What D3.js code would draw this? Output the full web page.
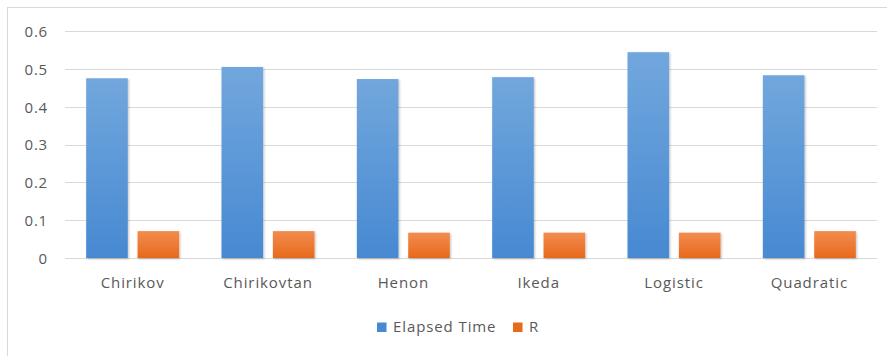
<!DOCTYPE html>
<html>
<head>
<meta charset="utf-8">
<script src="https://cdn.jsdelivr.net/npm/d3@7"></script>
<style>
  html, body { margin: 0; padding: 0; background: #fff; }
  svg { display: block; }
  text { font-family: "Open Sans", "Liberation Sans", sans-serif; fill: #595959; }
</style>
</head>
<body>
<svg id="chart" width="887" height="356"></svg>
<script>
// Chart data
const categories = ["Chirikov", "Chirikovtan", "Henon", "Ikeda", "Logistic", "Quadratic"];
const seriesNames = ["Elapsed Time", "R"];
const elapsedTime = [0.475, 0.505, 0.473, 0.478, 0.544, 0.483];
const rValues = [0.071, 0.071, 0.067, 0.067, 0.067, 0.071];
const yTicks = [0, 0.1, 0.2, 0.3, 0.4, 0.5, 0.6];

const seriesValues = [elapsedTime, rValues];
const colors = {
  "Elapsed Time": ["#72a7dd", "#4789d2"],
  "R": ["#f28c4e", "#e8691c"]
};

const plot = { left: 65, right: 877, top: 31, bottom: 258 };
const FONT = "'Open Sans', 'Liberation Sans', sans-serif";

const svg = d3.select("#chart");
const defs = svg.append("defs");

seriesNames.forEach((name, i) => {
  const g = defs.append("linearGradient")
    .attr("id", "grad" + i)
    .attr("x1", 0).attr("y1", 0).attr("x2", 0).attr("y2", 1);
  g.append("stop").attr("offset", "0%").attr("stop-color", colors[name][0]);
  g.append("stop").attr("offset", "100%").attr("stop-color", colors[name][1]);
});

const shadow = defs.append("filter").attr("id", "barShadow")
  .attr("x", "-20%").attr("y", "-10%").attr("width", "140%").attr("height", "120%");
shadow.append("feDropShadow")
  .attr("dx", 1).attr("dy", 1).attr("stdDeviation", 1.3)
  .attr("flood-color", "#000").attr("flood-opacity", 0.25);

// Outer chart border
svg.append("rect")
  .attr("x", 7.5).attr("y", 7.5)
  .attr("width", 920).attr("height", 420)
  .attr("fill", "none").attr("stroke", "#d9d9d9").attr("stroke-width", 1);

const y = d3.scaleLinear().domain([0, 0.6]).range([plot.bottom, plot.top]);
const x0 = d3.scaleBand().domain(categories).range([plot.left, plot.right])
  .paddingInner(0.313).paddingOuter(0.1565);
const x1 = d3.scaleBand().domain(seriesNames).range([0, x0.bandwidth()])
  .paddingInner(0.19);

// Gridlines
svg.append("g")
  .selectAll("line")
  .data(yTicks)
  .join("line")
  .attr("x1", plot.left).attr("x2", plot.right)
  .attr("y1", d => Math.round(y(d)) + 0.5)
  .attr("y2", d => Math.round(y(d)) + 0.5)
  .attr("stroke", "#d9d9d9").attr("stroke-width", 1);

// Y axis labels
const yAxis = d3.axisLeft(y).tickValues(yTicks).tickSize(0).tickPadding(0)
  .tickFormat(d => d === 0 ? "0" : d3.format(".1f")(d));
svg.append("g")
  .attr("transform", "translate(48,0)")
  .call(yAxis)
  .call(g => g.select(".domain").remove())
  .call(g => g.selectAll("text")
    .attr("font-family", FONT)
    .attr("font-size", 15)
    .attr("letter-spacing", "0.8px")
    .attr("fill", "#595959")
    .attr("dy", "0.36em"));

// Bars
const groups = svg.append("g")
  .selectAll("g")
  .data(categories)
  .join("g")
  .attr("transform", d => `translate(${x0(d)},0)`);

groups.selectAll("rect")
  .data((c, ci) => seriesNames.map((s, si) => ({ series: s, si, value: seriesValues[si][ci] })))
  .join("rect")
  .attr("x", d => x1(d.series))
  .attr("width", x1.bandwidth())
  .attr("y", d => y(d.value))
  .attr("height", d => y(0) - y(d.value))
  .attr("fill", d => `url(#grad${d.si})`)
  .attr("filter", "url(#barShadow)");

// Category axis labels
const xAxis = d3.axisBottom(x0).tickSize(0).tickPadding(0);
svg.append("g")
  .attr("transform", `translate(0,${plot.bottom})`)
  .call(xAxis)
  .call(g => g.select(".domain").remove())
  .call(g => g.selectAll("text")
    .attr("font-family", FONT)
    .attr("font-size", 15)
    .attr("fill", "#595959")
    .attr("letter-spacing", "0.9px")
    .attr("y", 30)
    .attr("dy", 0));

// Legend
const legendItems = [
  { name: "Elapsed Time", sx: 377, tx: 393 },
  { name: "R", sx: 513, tx: 529 }
];
const legend = svg.append("g");
legendItems.forEach(item => {
  legend.append("rect")
    .attr("x", item.sx).attr("y", 322.5)
    .attr("width", 9.5).attr("height", 9.5)
    .attr("fill", colors[item.name][1]);
  legend.append("text")
    .attr("x", item.tx).attr("y", 331.5)
    .attr("font-family", FONT)
    .attr("font-size", 15)
    .attr("letter-spacing", "0.9px")
    .text(item.name);
});
</script>
</body>
</html>
